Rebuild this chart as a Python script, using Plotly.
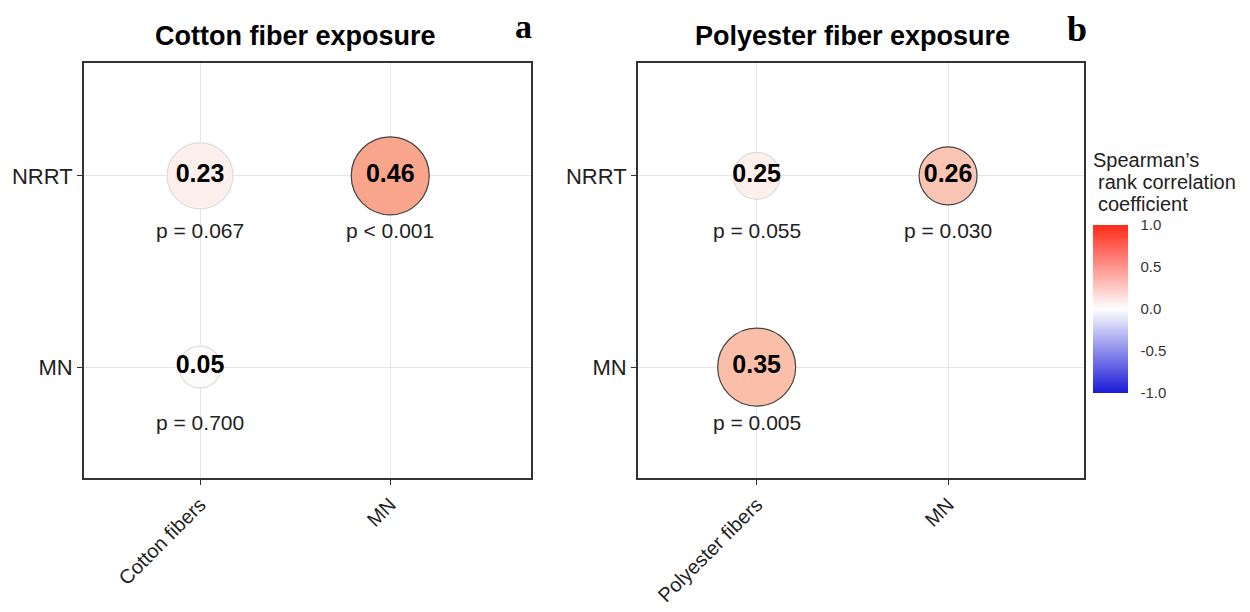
import plotly.graph_objects as go

# ---- data ----
x_cats_a = ["Cotton fibers", "MN"]
x_cats_b = ["Polyester fibers", "MN"]
y_cats = ["MN", "NRRT"]  # bottom to top

# panel a points
a_x = ["Cotton fibers", "MN", "Cotton fibers"]
a_y = ["NRRT", "NRRT", "MN"]
a_r = [0.23, 0.46, 0.05]
a_p = ["p = 0.067", "p < 0.001", "p = 0.700"]

# panel b points
b_x = ["Polyester fibers", "MN", "Polyester fibers"]
b_y = ["NRRT", "NRRT", "MN"]
b_r = [0.25, 0.26, 0.35]
b_p = ["p = 0.055", "p = 0.030", "p = 0.005"]

cbar_vals = [-1, -0.5, 0, 0.5, 1]
cbar_text = ["-1.0", "-0.5", "0.0", "0.5", "1.0"]
legend_title = ["Spearman’s", "rank correlation", "coefficient"]

# ---- styles ----
a_size = [66, 78, 42]
b_size = [47, 58, 78]
a_fill = ["#fcefec", "#f8a58c", "#fefcfb"]
b_fill = ["#fdf0ed", "#fac5b3", "#fbbfa9"]
a_line = ["#dddddd", "#444444", "#dddddd"]
b_line = ["#dddddd", "#444444", "#444444"]

FONT = "Liberation Sans, Arial, sans-serif"
W, H = 1250, 612

fig = go.Figure()

def add_panel(xs, ys, rs, ps, sizes, fills, lines, xcats, xa, ya):
    xi = [xcats.index(v) for v in xs]
    yi = [y_cats.index(v) for v in ys]
    fig.add_trace(go.Scatter(
        x=xi, y=yi, mode="markers+text",
        marker=dict(size=sizes, color=fills, line=dict(color=lines, width=1.2), opacity=1),
        text=[f"<b>{r:.2f}</b>" for r in rs], textposition="middle center",
        textfont=dict(size=25, color="black", family=FONT),
        xaxis=xa, yaxis=ya, showlegend=False, hoverinfo="skip"))
    for x, y, p in zip(xi, yi, ps):
        fig.add_annotation(x=x, y=y, xref=xa, yref=ya, text=p, showarrow=False,
                           xanchor="center", yanchor="middle",
                           yshift=-55, font=dict(size=21, color="#222222", family=FONT))

add_panel(a_x, a_y, a_r, a_p, a_size, a_fill, a_line, x_cats_a, "x", "y")
add_panel(b_x, b_y, b_r, b_p, b_size, b_fill, b_line, x_cats_b, "x2", "y2")

# colorbar trace
fig.add_trace(go.Scatter(
    x=[None], y=[None], mode="markers", xaxis="x2", yaxis="y2", showlegend=False,
    marker=dict(color=[0], cmin=-1, cmax=1,
                colorscale=[[0, "#1a1ad8"], [0.5, "#ffffff"], [1, "#ff2a1a"]],
                showscale=True,
                colorbar=dict(x=1093 / W, xanchor="left", y=1 - 225 / H, yanchor="top",
                              xpad=0, ypad=0,
                              len=168 / H, lenmode="fraction", thickness=35,
                              outlinewidth=0, ticks="outside", ticklen=10, tickcolor="white",
                              tickvals=cbar_vals, ticktext=cbar_text,
                              tickfont=dict(size=15, color="#333333", family=FONT)))))

axis_common = dict(showline=True, mirror=True, linecolor="#333333", linewidth=2,
                   showgrid=True, gridcolor="#e6e6e6", gridwidth=1, zeroline=False,
                   ticks="outside", ticklen=5, tickcolor="#333333", automargin=False)
xfont = dict(size=20, color="#222222", family=FONT)
yfont = dict(size=22, color="#222222", family=FONT)

top = 1 - 63 / H
bot = 1 - 478 / H
fig.update_layout(
    width=W, height=H, margin=dict(l=0, r=0, t=0, b=0, autoexpand=False),
    plot_bgcolor="white", paper_bgcolor="white",
    xaxis=dict(domain=[84 / W, 531 / W], range=[-0.61, 1.74], tickvals=[0, 1],
               ticktext=x_cats_a, tickangle=-45, anchor="y", tickfont=xfont, **axis_common),
    yaxis=dict(domain=[bot, top], range=[-0.58, 1.59], tickvals=[0, 1],
               ticktext=y_cats, anchor="x", tickfont=yfont, **axis_common),
    xaxis2=dict(domain=[638 / W, 1084 / W], range=[-0.62, 1.71], tickvals=[0, 1],
                ticktext=x_cats_b, tickangle=-45, anchor="y2", tickfont=xfont, **axis_common),
    yaxis2=dict(domain=[bot, top], range=[-0.58, 1.59], tickvals=[0, 1],
                ticktext=y_cats, anchor="x2", tickfont=yfont, **axis_common),
)

def paper_text(x, y, text, size, family=FONT, xanchor="center", color="black"):
    fig.add_annotation(x=x / W, y=1 - y / H, xref="paper", yref="paper", showarrow=False,
                       xanchor=xanchor, yanchor="middle", text=text,
                       font=dict(size=size, color=color, family=family))

paper_text(295, 36, "<b>Cotton fiber exposure</b>", 27)
paper_text(852, 36, "<b>Polyester fiber exposure</b>", 27)
paper_text(523, 27, "<b>a</b>", 34, family="Liberation Serif, serif")
paper_text(1077, 29, "<b>b</b>", 36, family="Liberation Serif, serif")
for (xx, yy), t in zip([(1091, 160), (1096, 182), (1096, 204)], legend_title):
    paper_text(xx, yy, t, 20, xanchor="left", color="#222222")

fig.write_html("out.html", config={"displayModeBar": False},
               post_script="document.body.style.margin='0';")
